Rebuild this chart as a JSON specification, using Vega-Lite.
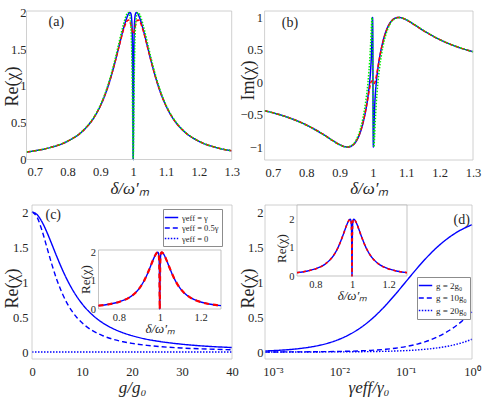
{
"$schema": "https://vega.github.io/schema/vega-lite/v6.json",
"width": 485, "height": 398, "autosize": "none", "padding": 0,
"config": {
 "view": {"stroke": null},
 "axis": {"labelFont": "Liberation Serif", "titleFont": "Liberation Serif", "labelFontSize": 12.5, "titleFontSize": 17, "titleFontWeight": "normal", "labelColor": "#262626", "titleColor": "#262626", "ticks": false, "tickSize": 0, "domain": false, "grid": false, "labelFlush": false, "labelPadding": 4},
 "legend": {"labelFont": "Liberation Serif", "labelColor": "#262626"}
},
"datasets": {
 "ab": [
  {"d":0.675,"s":"solid","re":0.101,"im":-0.439},{"d":0.7,"s":"solid","re":0.118,"im":-0.471},{"d":0.75,"s":"solid","re":0.166,"im":-0.551},{"d":0.8,"s":"solid","re":0.248,"im":-0.659},{"d":0.85,"s":"solid","re":0.403,"im":-0.802},{"d":0.88,"s":"solid","re":0.567,"im":-0.902},{"d":0.9,"s":"solid","re":0.729,"im":-0.963},{"d":0.92,"s":"solid","re":0.951,"im":-0.999},{"d":0.925,"s":"solid","re":1.018,"im":-1.0},{"d":0.94,"s":"solid","re":1.246,"im":-0.969},{"d":0.95,"s":"solid","re":1.419,"im":-0.908},{"d":0.96,"s":"solid","re":1.6,"im":-0.8},{"d":0.97,"s":"solid","re":1.776,"im":-0.631},{"d":0.98,"s":"solid","re":1.923,"im":-0.385},{"d":0.985,"s":"solid","re":1.976,"im":-0.22},{"d":0.99,"s":"solid","re":2.0,"im":0},{"d":0.993,"s":"solid","re":1.981,"im":0.193},{"d":0.995,"s":"solid","re":1.923,"im":0.385},{"d":0.997,"s":"solid","re":1.719,"im":0.695},{"d":0.998,"s":"solid","re":1.419,"im":0.908},{"d":0.9987,"s":"solid","re":0.992,"im":1.0},{"d":0.999,"s":"solid","re":0.729,"im":0.963},{"d":0.9994,"s":"solid","re":0.339,"im":0.75},{"d":0.9997,"s":"solid","re":0.097,"im":0.429},{"d":1.0,"s":"solid","re":0,"im":0},{"d":1.0003,"s":"solid","re":0.097,"im":-0.429},{"d":1.0006,"s":"solid","re":0.339,"im":-0.75},{"d":1.001,"s":"solid","re":0.729,"im":-0.963},{"d":1.0013,"s":"solid","re":0.992,"im":-1.0},{"d":1.002,"s":"solid","re":1.419,"im":-0.908},{"d":1.003,"s":"solid","re":1.719,"im":-0.695},{"d":1.005,"s":"solid","re":1.923,"im":-0.385},{"d":1.007,"s":"solid","re":1.981,"im":-0.193},{"d":1.01,"s":"solid","re":2.0,"im":0},{"d":1.015,"s":"solid","re":1.976,"im":0.22},{"d":1.02,"s":"solid","re":1.923,"im":0.385},{"d":1.03,"s":"solid","re":1.776,"im":0.631},{"d":1.04,"s":"solid","re":1.6,"im":0.8},{"d":1.05,"s":"solid","re":1.419,"im":0.908},{"d":1.06,"s":"solid","re":1.246,"im":0.969},{"d":1.075,"s":"solid","re":1.018,"im":1.0},{"d":1.08,"s":"solid","re":0.951,"im":0.999},{"d":1.1,"s":"solid","re":0.729,"im":0.963},{"d":1.12,"s":"solid","re":0.567,"im":0.902},{"d":1.15,"s":"solid","re":0.403,"im":0.802},{"d":1.2,"s":"solid","re":0.248,"im":0.659},{"d":1.25,"s":"solid","re":0.166,"im":0.551},{"d":1.3,"s":"solid","re":0.118,"im":0.471},
  {"d":0.675,"s":"dashed","re":0.101,"im":-0.439},{"d":0.7,"s":"dashed","re":0.118,"im":-0.471},{"d":0.75,"s":"dashed","re":0.166,"im":-0.551},{"d":0.8,"s":"dashed","re":0.248,"im":-0.659},{"d":0.85,"s":"dashed","re":0.403,"im":-0.802},{"d":0.88,"s":"dashed","re":0.567,"im":-0.902},{"d":0.9,"s":"dashed","re":0.729,"im":-0.963},{"d":0.92,"s":"dashed","re":0.951,"im":-0.999},{"d":0.925,"s":"dashed","re":1.018,"im":-1.0},{"d":0.94,"s":"dashed","re":1.246,"im":-0.969},{"d":0.95,"s":"dashed","re":1.415,"im":-0.903},{"d":0.96,"s":"dashed","re":1.592,"im":-0.793},{"d":0.97,"s":"dashed","re":1.757,"im":-0.623},{"d":0.98,"s":"dashed","re":1.877,"im":-0.384},{"d":0.985,"s":"dashed","re":1.899,"im":-0.24},{"d":0.988,"s":"dashed","re":1.891,"im":-0.149},{"d":0.99,"s":"dashed","re":1.873,"im":-0.092},{"d":0.992,"s":"dashed","re":1.845,"im":-0.04},{"d":0.994,"s":"dashed","re":1.807,"im":0},{"d":0.996,"s":"dashed","re":1.765,"im":0.021},{"d":0.998,"s":"dashed","re":1.729,"im":0.019},{"d":1.0,"s":"dashed","re":1.714,"im":0},{"d":1.002,"s":"dashed","re":1.729,"im":-0.019},{"d":1.004,"s":"dashed","re":1.765,"im":-0.021},{"d":1.006,"s":"dashed","re":1.807,"im":0},{"d":1.008,"s":"dashed","re":1.845,"im":0.04},{"d":1.01,"s":"dashed","re":1.873,"im":0.092},{"d":1.012,"s":"dashed","re":1.891,"im":0.149},{"d":1.015,"s":"dashed","re":1.899,"im":0.24},{"d":1.02,"s":"dashed","re":1.877,"im":0.384},{"d":1.03,"s":"dashed","re":1.757,"im":0.623},{"d":1.04,"s":"dashed","re":1.592,"im":0.793},{"d":1.05,"s":"dashed","re":1.415,"im":0.903},{"d":1.06,"s":"dashed","re":1.246,"im":0.969},{"d":1.075,"s":"dashed","re":1.018,"im":1.0},{"d":1.08,"s":"dashed","re":0.951,"im":0.999},{"d":1.1,"s":"dashed","re":0.729,"im":0.963},{"d":1.12,"s":"dashed","re":0.567,"im":0.902},{"d":1.15,"s":"dashed","re":0.403,"im":0.802},{"d":1.2,"s":"dashed","re":0.248,"im":0.659},{"d":1.25,"s":"dashed","re":0.166,"im":0.551},{"d":1.3,"s":"dashed","re":0.118,"im":0.471},
  {"d":0.675,"s":"dotted","re":0.102,"im":-0.44},{"d":0.7,"s":"dotted","re":0.118,"im":-0.472},{"d":0.75,"s":"dotted","re":0.166,"im":-0.552},{"d":0.8,"s":"dotted","re":0.249,"im":-0.66},{"d":0.85,"s":"dotted","re":0.407,"im":-0.805},{"d":0.88,"s":"dotted","re":0.575,"im":-0.905},{"d":0.9,"s":"dotted","re":0.741,"im":-0.966},{"d":0.92,"s":"dotted","re":0.971,"im":-1.0},{"d":0.94,"s":"dotted","re":1.28,"im":-0.96},{"d":0.95,"s":"dotted","re":1.462,"im":-0.887},{"d":0.96,"s":"dotted","re":1.653,"im":-0.758},{"d":0.97,"s":"dotted","re":1.835,"im":-0.551},{"d":0.975,"s":"dotted","re":1.913,"im":-0.408},{"d":0.98,"s":"dotted","re":1.973,"im":-0.23},{"d":0.985,"s":"dotted","re":2.0,"im":0},{"d":0.988,"s":"dotted","re":1.984,"im":0.179},{"d":0.99,"s":"dotted","re":1.946,"im":0.324},{"d":0.993,"s":"dotted","re":1.798,"im":0.603},{"d":0.995,"s":"dotted","re":1.557,"im":0.83},{"d":0.997,"s":"dotted","re":1.041,"im":0.999},{"d":0.998,"s":"dotted","re":0.631,"im":0.929},{"d":0.999,"s":"dotted","re":0.202,"im":0.602},{"d":0.9995,"s":"dotted","re":0.054,"im":0.325},{"d":1.0,"s":"dotted","re":0,"im":0},{"d":1.0005,"s":"dotted","re":0.054,"im":-0.325},{"d":1.001,"s":"dotted","re":0.202,"im":-0.602},{"d":1.002,"s":"dotted","re":0.631,"im":-0.929},{"d":1.003,"s":"dotted","re":1.041,"im":-0.999},{"d":1.005,"s":"dotted","re":1.557,"im":-0.83},{"d":1.007,"s":"dotted","re":1.798,"im":-0.603},{"d":1.01,"s":"dotted","re":1.946,"im":-0.324},{"d":1.012,"s":"dotted","re":1.984,"im":-0.179},{"d":1.015,"s":"dotted","re":2.0,"im":0},{"d":1.02,"s":"dotted","re":1.973,"im":0.23},{"d":1.025,"s":"dotted","re":1.913,"im":0.408},{"d":1.03,"s":"dotted","re":1.835,"im":0.551},{"d":1.04,"s":"dotted","re":1.653,"im":0.758},{"d":1.05,"s":"dotted","re":1.462,"im":0.887},{"d":1.06,"s":"dotted","re":1.28,"im":0.96},{"d":1.08,"s":"dotted","re":0.971,"im":1.0},{"d":1.1,"s":"dotted","re":0.741,"im":0.966},{"d":1.12,"s":"dotted","re":0.575,"im":0.905},{"d":1.15,"s":"dotted","re":0.407,"im":0.805},{"d":1.2,"s":"dotted","re":0.249,"im":0.66},{"d":1.25,"s":"dotted","re":0.166,"im":0.552},{"d":1.3,"s":"dotted","re":0.118,"im":0.472}
 ],
 "c": [
  {"g":0,"s":"γeff = γ","re":2},{"g":1,"s":"γeff = γ","re":1.963},{"g":2,"s":"γeff = γ","re":1.859},{"g":3,"s":"γeff = γ","re":1.708},{"g":4,"s":"γeff = γ","re":1.534},{"g":5,"s":"γeff = γ","re":1.356},{"g":6,"s":"γeff = γ","re":1.188},{"g":7,"s":"γeff = γ","re":1.036},{"g":8,"s":"γeff = γ","re":0.903},{"g":9,"s":"γeff = γ","re":0.788},{"g":10,"s":"γeff = γ","re":0.69},{"g":12,"s":"γeff = γ","re":0.535},{"g":14,"s":"γeff = γ","re":0.423},{"g":16,"s":"γeff = γ","re":0.341},{"g":18,"s":"γeff = γ","re":0.28},{"g":20,"s":"γeff = γ","re":0.233},{"g":23,"s":"γeff = γ","re":0.181},{"g":26,"s":"γeff = γ","re":0.145},{"g":30,"s":"γeff = γ","re":0.111},{"g":35,"s":"γeff = γ","re":0.082},{"g":40,"s":"γeff = γ","re":0.064},
  {"g":0,"s":"γeff = 0.5γ","re":2},{"g":1,"s":"γeff = 0.5γ","re":1.927},{"g":2,"s":"γeff = 0.5γ","re":1.736},{"g":3,"s":"γeff = 0.5γ","re":1.49},{"g":4,"s":"γeff = 0.5γ","re":1.244},{"g":5,"s":"γeff = 0.5γ","re":1.026},{"g":6,"s":"γeff = 0.5γ","re":0.845},{"g":7,"s":"γeff = 0.5γ","re":0.699},{"g":8,"s":"γeff = 0.5γ","re":0.583},{"g":9,"s":"γeff = 0.5γ","re":0.49},{"g":10,"s":"γeff = 0.5γ","re":0.417},{"g":12,"s":"γeff = 0.5γ","re":0.309},{"g":14,"s":"γeff = 0.5γ","re":0.237},{"g":16,"s":"γeff = 0.5γ","re":0.186},{"g":18,"s":"γeff = 0.5γ","re":0.15},{"g":20,"s":"γeff = 0.5γ","re":0.124},{"g":23,"s":"γeff = 0.5γ","re":0.095},{"g":26,"s":"γeff = 0.5γ","re":0.075},{"g":30,"s":"γeff = 0.5γ","re":0.057},{"g":35,"s":"γeff = 0.5γ","re":0.042},{"g":40,"s":"γeff = 0.5γ","re":0.032},
  {"g":0,"s":"γeff = 0","re":0},{"g":10,"s":"γeff = 0","re":0},{"g":20,"s":"γeff = 0","re":0},{"g":30,"s":"γeff = 0","re":0},{"g":40,"s":"γeff = 0","re":0}
 ],
 "d": [
  {"x":0.00076,"s":"g = 2g₀","re":0.0151},{"x":0.001,"s":"g = 2g₀","re":0.0198},{"x":0.0015,"s":"g = 2g₀","re":0.0296},{"x":0.002,"s":"g = 2g₀","re":0.0392},{"x":0.003,"s":"g = 2g₀","re":0.0583},{"x":0.005,"s":"g = 2g₀","re":0.0952},{"x":0.007,"s":"g = 2g₀","re":0.1308},{"x":0.01,"s":"g = 2g₀","re":0.1818},{"x":0.015,"s":"g = 2g₀","re":0.2609},{"x":0.02,"s":"g = 2g₀","re":0.3333},{"x":0.03,"s":"g = 2g₀","re":0.4615},{"x":0.05,"s":"g = 2g₀","re":0.6667},{"x":0.07,"s":"g = 2g₀","re":0.8235},{"x":0.1,"s":"g = 2g₀","re":1.0},{"x":0.15,"s":"g = 2g₀","re":1.2},{"x":0.2,"s":"g = 2g₀","re":1.3333},{"x":0.3,"s":"g = 2g₀","re":1.5},{"x":0.5,"s":"g = 2g₀","re":1.6667},{"x":0.7,"s":"g = 2g₀","re":1.75},{"x":1,"s":"g = 2g₀","re":1.8182},
  {"x":0.00076,"s":"g = 10g₀","re":0.0006},{"x":0.001,"s":"g = 10g₀","re":0.0008},{"x":0.0015,"s":"g = 10g₀","re":0.0012},{"x":0.002,"s":"g = 10g₀","re":0.0016},{"x":0.003,"s":"g = 10g₀","re":0.0024},{"x":0.005,"s":"g = 10g₀","re":0.004},{"x":0.007,"s":"g = 10g₀","re":0.0056},{"x":0.01,"s":"g = 10g₀","re":0.008},{"x":0.015,"s":"g = 10g₀","re":0.0119},{"x":0.02,"s":"g = 10g₀","re":0.0159},{"x":0.03,"s":"g = 10g₀","re":0.0237},{"x":0.05,"s":"g = 10g₀","re":0.0392},{"x":0.07,"s":"g = 10g₀","re":0.0545},{"x":0.1,"s":"g = 10g₀","re":0.0769},{"x":0.15,"s":"g = 10g₀","re":0.1132},{"x":0.2,"s":"g = 10g₀","re":0.1481},{"x":0.3,"s":"g = 10g₀","re":0.2143},{"x":0.5,"s":"g = 10g₀","re":0.3333},{"x":0.7,"s":"g = 10g₀","re":0.4375},{"x":1,"s":"g = 10g₀","re":0.5714},
  {"x":0.00076,"s":"g = 20g₀","re":0.00015},{"x":0.001,"s":"g = 20g₀","re":0.0002},{"x":0.0015,"s":"g = 20g₀","re":0.0003},{"x":0.002,"s":"g = 20g₀","re":0.0004},{"x":0.003,"s":"g = 20g₀","re":0.0006},{"x":0.005,"s":"g = 20g₀","re":0.001},{"x":0.007,"s":"g = 20g₀","re":0.0014},{"x":0.01,"s":"g = 20g₀","re":0.002},{"x":0.015,"s":"g = 20g₀","re":0.003},{"x":0.02,"s":"g = 20g₀","re":0.004},{"x":0.03,"s":"g = 20g₀","re":0.006},{"x":0.05,"s":"g = 20g₀","re":0.01},{"x":0.07,"s":"g = 20g₀","re":0.0139},{"x":0.1,"s":"g = 20g₀","re":0.0198},{"x":0.15,"s":"g = 20g₀","re":0.0296},{"x":0.2,"s":"g = 20g₀","re":0.0392},{"x":0.3,"s":"g = 20g₀","re":0.0583},{"x":0.5,"s":"g = 20g₀","re":0.0952},{"x":0.7,"s":"g = 20g₀","re":0.1308},{"x":1,"s":"g = 20g₀","re":0.1818}
 ]
},
"resolve": {"scale": {"x": "independent", "y": "independent", "color": "independent", "strokeDash": "independent"}, "axis": {"x": "independent", "y": "independent"}, "legend": {"strokeDash": "independent", "color": "independent"}},
"layer": [
 {
  "layer": [
   {"data": {"name": "ab"}, "mark": {"type": "line", "interpolate": "monotone", "strokeWidth": 1.5},
    "encoding": {
     "x": {"field": "d", "type": "quantitative", "scale": {"domain": [0.675, 1.3], "range": [26.5, 231.7], "nice": false, "zero": false}, "axis": {"orient": "bottom", "offset": -238.5, "values": [0.7, 0.8, 0.9, 1, 1.1, 1.2, 1.3], "format": "~g", "labelFont": "Liberation Serif", "title": "δ/ω′ₘ", "titleFontStyle": "italic", "labelPadding": 6, "titlePadding": 2}},
     "y": {"field": "re", "type": "quantitative", "scale": {"domain": [0, 2.02], "range": [159.5, 11], "nice": false, "zero": false}, "axis": {"orient": "left", "offset": -26.5, "values": [0, 0.5, 1, 1.5, 2], "format": "~g", "labelFont": "Liberation Serif", "title": "Re(χ)", "titleFontSize": 18, "titleBaseline": "middle", "titleX": -14.5, "titleY": 86, "labelPadding": 0.5}},
     "color": {"field": "s", "type": "nominal", "scale": {"domain": ["solid", "dashed", "dotted"], "range": ["#0000ff", "#ff0000", "#00ee00"]}, "legend": null},
     "strokeDash": {"field": "s", "type": "nominal", "scale": {"domain": ["solid", "dashed", "dotted"], "range": [[1, 0], [4, 2], [1.5, 1.5]]}, "legend": null}}},
   {"data": {"values": [{}]}, "mark": {"type": "rect", "filled": false, "color": "#c4c4c4", "strokeWidth": 0.8}, "encoding": {"x": {"datum": 0.675}, "x2": {"datum": 1.3}, "y": {"datum": 0}, "y2": {"datum": 2.02}}},
   {"data": {"values": [{}]}, "mark": {"type": "text", "fontSize": 14, "font": "Liberation Serif", "color": "#262626"}, "encoding": {"x": {"datum": 0.766}, "y": {"datum": 1.87}, "text": {"value": "(a)"}}}
  ]
 },
 {
  "layer": [
   {"data": {"name": "ab"}, "mark": {"type": "line", "interpolate": "monotone", "strokeWidth": 1.5},
    "encoding": {
     "x": {"field": "d", "type": "quantitative", "scale": {"domain": [0.675, 1.3], "range": [264.6, 473], "nice": false, "zero": false}, "axis": {"orient": "bottom", "offset": -238, "values": [0.7, 0.8, 0.9, 1, 1.1, 1.2, 1.3], "format": "~g", "labelFont": "Liberation Serif", "title": "δ/ω′ₘ", "titleFontStyle": "italic", "labelPadding": 6, "titlePadding": 2}},
     "y": {"field": "im", "type": "quantitative", "scale": {"domain": [-1.2, 1.1], "range": [160, 11], "nice": false, "zero": false}, "axis": {"orient": "left", "offset": -264.6, "values": [-1, -0.5, 0, 0.5, 1], "format": "~g", "labelFont": "Liberation Serif", "title": "Im(χ)", "titleFontSize": 18, "titleBaseline": "middle", "titleX": -16.3, "titleY": 80, "labelPadding": 2}},
     "color": {"field": "s", "type": "nominal", "scale": {"domain": ["solid", "dashed", "dotted"], "range": ["#0000ff", "#ff0000", "#00ee00"]}, "legend": null},
     "strokeDash": {"field": "s", "type": "nominal", "scale": {"domain": ["solid", "dashed", "dotted"], "range": [[1, 0], [4, 2], [1.5, 1.5]]}, "legend": null}}},
   {"data": {"values": [{}]}, "mark": {"type": "rect", "filled": false, "color": "#c4c4c4", "strokeWidth": 0.8}, "encoding": {"x": {"datum": 0.675}, "x2": {"datum": 1.3}, "y": {"datum": -1.2}, "y2": {"datum": 1.1}}},
   {"data": {"values": [{}]}, "mark": {"type": "text", "fontSize": 14, "font": "Liberation Serif", "color": "#262626"}, "encoding": {"x": {"datum": 0.751}, "y": {"datum": 0.92}, "text": {"value": "(b)"}}}
  ]
 },
 {
  "layer": [
   {"data": {"name": "c"}, "mark": {"type": "line", "interpolate": "monotone", "strokeWidth": 1.4, "color": "#0000ff"},
    "encoding": {
     "x": {"field": "g", "type": "quantitative", "scale": {"domain": [0, 40], "range": [32, 232], "nice": false, "zero": false}, "axis": {"orient": "bottom", "offset": -39, "values": [0, 10, 20, 30, 40], "labelFont": "Liberation Serif", "title": "g/g₀", "titleFontStyle": "italic", "labelPadding": 6, "titlePadding": 2}},
     "y": {"field": "re", "type": "quantitative", "scale": {"domain": [-0.1, 2.1], "range": [359, 205], "nice": false, "zero": false}, "axis": {"orient": "left", "offset": -32, "values": [0, 0.5, 1, 1.5, 2], "format": "~g", "labelFont": "Liberation Serif", "title": "Re(χ)", "titleFontSize": 18, "titleBaseline": "middle", "titleX": -20, "titleY": 288, "labelPadding": 4}},
     "strokeDash": {"field": "s", "type": "nominal", "scale": {"domain": ["γeff = γ", "γeff = 0.5γ", "γeff = 0"], "range": [[1, 0], [5, 3], [1.5, 1.5]]},
      "legend": {"orient": "none", "legendX": 163, "legendY": 209, "title": null, "direction": "vertical", "strokeColor": "#8c8c8c", "fillColor": "white", "padding": 3, "rowPadding": 0.5, "labelFont": "Liberation Serif", "labelFontSize": 8.5, "labelOffset": 5, "symbolType": "M-1.5,0H1.5", "symbolSize": 80, "symbolStrokeWidth": 1.5, "symbolStrokeColor": "#0000ff", "symbolFillColor": "transparent"}}}},
   {"data": {"values": [{}]}, "mark": {"type": "rect", "filled": false, "color": "#c4c4c4", "strokeWidth": 0.8}, "encoding": {"x": {"datum": 0}, "x2": {"datum": 40}, "y": {"datum": -0.1}, "y2": {"datum": 2.1}}},
   {"data": {"values": [{}]}, "mark": {"type": "text", "fontSize": 14, "font": "Liberation Serif", "color": "#262626"}, "encoding": {"x": {"datum": 4.25}, "y": {"datum": 1.96}, "text": {"value": "(c)"}}}
  ]
 },
 {
  "layer": [
   {"data": {"values": [{}]}, "mark": {"type": "rect", "fill": "white", "stroke": "#b4b4b4", "strokeWidth": 0.8}, "encoding": {"x": {"datum": 0.7}, "x2": {"datum": 1.3}, "y": {"datum": 0}, "y2": {"datum": 2.08}}},
   {"data": {"name": "ab"}, "transform": [{"filter": "datum.s == 'solid' && datum.d >= 0.7"}], "mark": {"type": "line", "interpolate": "monotone", "strokeWidth": 1.4, "color": "#0000ff"},
    "encoding": {
     "x": {"field": "d", "type": "quantitative", "scale": {"domain": [0.7, 1.3], "range": [98.5, 221], "nice": false, "zero": false}, "axis": {"orient": "bottom", "offset": -89, "values": [0.8, 1, 1.2], "format": "~g", "labelFont": "Liberation Serif", "labelFontSize": 10.5, "title": "δ/ω′ₘ", "titleFontSize": 13, "titleFontStyle": "italic", "labelPadding": 3, "titlePadding": 0}},
     "y": {"field": "re", "type": "quantitative", "scale": {"domain": [0, 2.08], "range": [309, 250], "nice": false, "zero": false}, "axis": {"orient": "left", "offset": -98.5, "values": [0, 1, 2], "format": "~g", "labelFont": "Liberation Serif", "labelFontSize": 10.5, "title": "Re(χ)", "titleFontSize": 13, "titleBaseline": "middle", "titleX": -13.5, "titleY": 279, "labelPadding": 3}}}},
   {"data": {"name": "ab"}, "transform": [{"filter": "datum.s == 'solid' && datum.d >= 0.7"}], "mark": {"type": "line", "interpolate": "monotone", "strokeWidth": 2.2, "color": "#ff0000", "strokeDash": [5, 4]},
    "encoding": {"x": {"field": "d", "type": "quantitative"}, "y": {"field": "re", "type": "quantitative"}}}
  ]
 },
 {
  "layer": [
   {"data": {"name": "d"}, "mark": {"type": "line", "interpolate": "monotone", "strokeWidth": 1.4, "color": "#0000ff"},
    "encoding": {
     "x": {"field": "x", "type": "quantitative", "scale": {"type": "log", "domain": [0.00076, 1], "range": [265, 472], "nice": false}, "axis": {"orient": "bottom", "offset": -39, "values": [0.001, 0.01, 0.1, 1], "labelExpr": "datum.value < 0.005 ? '10⁻³' : datum.value < 0.05 ? '10⁻²' : datum.value < 0.5 ? '10⁻¹' : '10⁰'", "labelFont": "Liberation Serif", "title": "γeff/γ₀", "titleFontStyle": "italic", "labelPadding": 6, "titlePadding": 2}},
     "y": {"field": "re", "type": "quantitative", "scale": {"domain": [-0.1, 2.1], "range": [359, 205], "nice": false, "zero": false}, "axis": {"orient": "left", "offset": -265, "values": [0, 0.5, 1, 1.5, 2], "format": "~g", "labelFont": "Liberation Serif", "title": "Re(χ)", "titleFontSize": 18, "titleBaseline": "middle", "titleX": -17, "titleY": 288, "labelPadding": 2}},
     "strokeDash": {"field": "s", "type": "nominal", "scale": {"domain": ["g = 2g₀", "g = 10g₀", "g = 20g₀"], "range": [[1, 0], [5, 3], [1.5, 1.5]]},
      "legend": {"orient": "none", "legendX": 417, "legendY": 277, "title": null, "direction": "vertical", "strokeColor": "#8c8c8c", "fillColor": "white", "padding": 3, "rowPadding": 1.5, "labelFont": "Liberation Serif", "labelFontSize": 9, "labelOffset": 5, "symbolType": "M-1.5,0H1.5", "symbolSize": 80, "symbolStrokeWidth": 1.5, "symbolStrokeColor": "#0000ff", "symbolFillColor": "transparent"}}}},
   {"data": {"values": [{}]}, "mark": {"type": "rect", "filled": false, "color": "#c4c4c4", "strokeWidth": 0.8}, "encoding": {"x": {"datum": 0.00076}, "x2": {"datum": 1}, "y": {"datum": -0.1}, "y2": {"datum": 2.1}}},
   {"data": {"values": [{}]}, "mark": {"type": "text", "fontSize": 14, "font": "Liberation Serif", "color": "#262626"}, "encoding": {"x": {"datum": 0.7}, "y": {"datum": 1.886}, "text": {"value": "(d)"}}}
  ]
 },
 {
  "layer": [
   {"data": {"values": [{}]}, "mark": {"type": "rect", "fill": "white", "stroke": "#b4b4b4", "strokeWidth": 0.8}, "encoding": {"x": {"datum": 0.7}, "x2": {"datum": 1.3}, "y": {"datum": 0}, "y2": {"datum": 2.5}}},
   {"data": {"name": "ab"}, "transform": [{"filter": "datum.s == 'solid' && datum.d >= 0.7"}], "mark": {"type": "line", "interpolate": "monotone", "strokeWidth": 1.4, "color": "#0000ff"},
    "encoding": {
     "x": {"field": "d", "type": "quantitative", "scale": {"domain": [0.7, 1.3], "range": [297, 407], "nice": false, "zero": false}, "axis": {"orient": "bottom", "offset": -122, "values": [0.8, 1, 1.2], "format": "~g", "labelFont": "Liberation Serif", "labelFontSize": 10.5, "title": "δ/ω′ₘ", "titleFontSize": 13, "titleFontStyle": "italic", "labelPadding": 3, "titlePadding": 0}},
     "y": {"field": "re", "type": "quantitative", "scale": {"domain": [0, 2.5], "range": [276, 205], "nice": false, "zero": false}, "axis": {"orient": "left", "offset": -297, "values": [0, 1, 2], "format": "~g", "labelFont": "Liberation Serif", "labelFontSize": 10.5, "title": "Re(χ)", "titleFontSize": 13, "titleBaseline": "middle", "titleX": -15.3, "titleY": 248, "labelPadding": 3}}}},
   {"data": {"name": "ab"}, "transform": [{"filter": "datum.s == 'solid' && datum.d >= 0.7"}], "mark": {"type": "line", "interpolate": "monotone", "strokeWidth": 1.6, "color": "#ff0000", "strokeDash": [3, 3]},
    "encoding": {"x": {"field": "d", "type": "quantitative"}, "y": {"field": "re", "type": "quantitative"}}}
  ]
 }
]
}
